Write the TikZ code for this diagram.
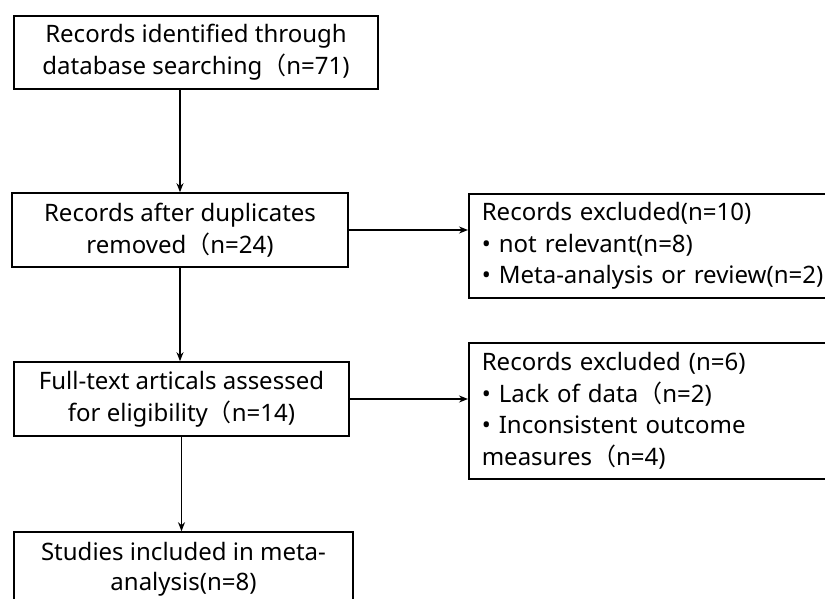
\documentclass[tikz,border=0pt]{standalone}
\usepackage{fontspec}
\setmainfont{Noto Sans}
\newfontfamily\cjk{Noto Sans CJK SC}
\usetikzlibrary{arrows.meta,positioning}
\newcommand{\fwpar}{{\cjk （}}

\begin{document}
\begin{tikzpicture}[x=1pt,y=-1pt]
  % Settings
  \tikzset{
    stage/.style={draw, line width=1.6pt, inner sep=0pt, align=center, font=\fontsize{24}{32}\selectfont},
    excl/.style={draw, line width=1.6pt, inner xsep=13pt, inner ysep=0pt, align=left, anchor=north west, font=\fontsize{24}{31.5}\selectfont},
    flow/.style={line width=1.6pt, -{Stealth[length=9pt,width=7pt]}},
  }
  \clip (0,0) rectangle (825,599);
  % Main stages
  \node[stage, minimum width=364pt, minimum height=73pt] (ident) at (196,52.5) {Records identified through\\database searching\fwpar n=71)};
  \node[stage, minimum width=336pt, minimum height=74pt] (dupl) at (180,230) {Records after duplicates\\removed\fwpar n=24)};
  \node[stage, minimum width=335pt, minimum height=74pt] (full) at (181.5,399) {Full-text articals assessed\\for eligibility\fwpar n=14)};
  \node[stage, minimum width=339pt, minimum height=74pt, font=\fontsize{24}{30}\selectfont] (incl) at (183.5,569) {Studies included in meta-\\analysis(n=8)};
  % Exclusions
  \node[excl, text width=360pt, minimum height=104pt] (excla) at (468,193) {Records excluded(n=10)\\\textbullet{} not relevant(n=8)\\\textbullet{} Meta-analysis or review(n=2)};
  \node[excl, text width=360pt, minimum height=136pt] (exclb) at (468,342) {Records excluded (n=6)\\\textbullet{} Lack of data\fwpar n=2)\\\textbullet{} Inconsistent outcome\\measures\fwpar n=4)};
  % Arrows
  \draw[flow] (ident.south -| dupl.north) -- (dupl.north);
  \draw[flow] (dupl.south) -- (dupl.south |- full.north);
  \draw[flow] (full.south) -- (full.south |- incl.north);
  \draw[flow] (dupl.east) -- (dupl.east -| excla.west);
  \draw[flow] (full.east) -- (full.east -| exclb.west);
\end{tikzpicture}
\end{document}
